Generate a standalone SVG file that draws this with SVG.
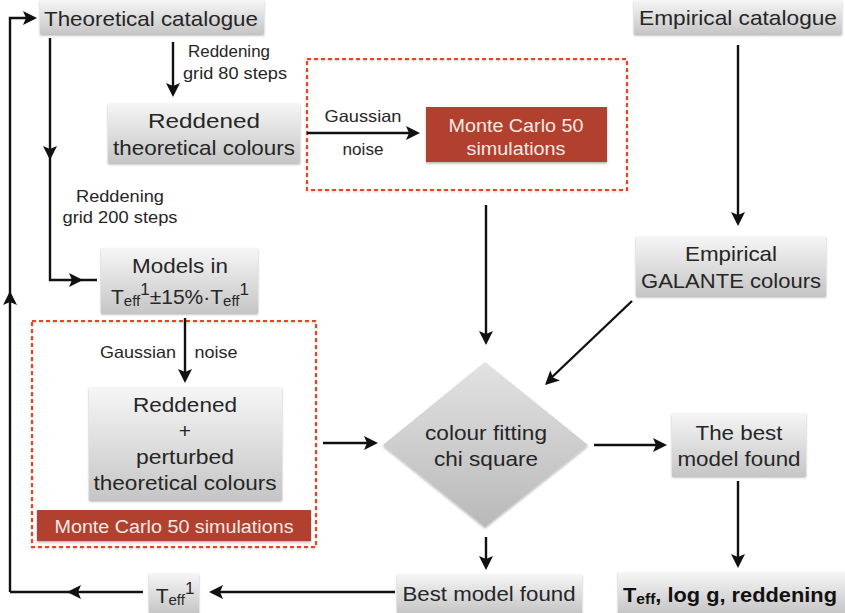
<svg xmlns="http://www.w3.org/2000/svg" xmlns:xlink="http://www.w3.org/1999/xlink" width="845" height="613" viewBox="0 0 845 613">
<style>
  text{font-family:"Liberation Sans",Arial,sans-serif;fill:#262626;text-anchor:middle}
  .lbl{font-size:21px}
  .sm{font-size:16.5px}
  .mc{font-size:18px;fill:#f6e9e4}
  .box{fill:url(#gbox);filter:url(#sh)}
  .red{fill:#b1402f;filter:url(#sh)}
  .dash{fill:none;stroke:#f0401f;stroke-width:2;stroke-dasharray:4 3;filter:url(#sh2)}
  .ln{fill:none;stroke:#111;stroke-width:2.4}
  .bold{font-weight:bold;font-size:21px;fill:#111}
</style>
<defs>
  <linearGradient id="gbox" x1="0" y1="0" x2="0" y2="1">
    <stop offset="0" stop-color="#f6f6f6"/>
    <stop offset="1" stop-color="#c6c6c6"/>
  </linearGradient>
  <linearGradient id="gdia" x1="0" y1="0" x2="0" y2="1">
    <stop offset="0" stop-color="#e2e2e2"/>
    <stop offset="1" stop-color="#b9b9b9"/>
  </linearGradient>
  <filter id="sh" x="-10%" y="-10%" width="120%" height="130%">
    <feDropShadow dx="0" dy="1.5" stdDeviation="1.2" flood-color="#000" flood-opacity="0.3"/>
  </filter>
  <filter id="sh2" x="-5%" y="-5%" width="110%" height="110%">
    <feDropShadow dx="0" dy="1" stdDeviation="0.8" flood-color="#000" flood-opacity="0.25"/>
  </filter>
  <path id="ah" d="M0,0 L-14,-7 L-11,0 L-14,7 Z" fill="#111"/>
</defs>

<!-- dashed groups -->
<g id="mc-top-group">
  <rect class="dash" x="307" y="59" width="320" height="131"/>
</g>
<g id="mc-bottom-group">
  <rect class="dash" x="32" y="321" width="284" height="226"/>
</g>

<g id="theo-cat">
  <rect class="box" x="40" y="0" width="224" height="34"/>
  <text class="lbl" x="151" y="26" textLength="214" lengthAdjust="spacingAndGlyphs">Theoretical catalogue</text>
</g>
<g id="emp-cat">
  <rect class="box" x="634" y="0" width="208" height="34"/>
  <text class="lbl" x="738" y="25" textLength="198" lengthAdjust="spacingAndGlyphs">Empirical catalogue</text>
</g>
<g id="reddened-theo">
  <rect class="box" x="108" y="103" width="192" height="60"/>
  <text class="lbl" x="204" y="128" textLength="112" lengthAdjust="spacingAndGlyphs">Reddened</text>
  <text class="lbl" x="204" y="155" textLength="182" lengthAdjust="spacingAndGlyphs">theoretical colours</text>
</g>
<g id="mc-top">
  <rect class="red" x="426" y="107" width="181" height="55"/>
  <text class="mc" x="516" y="132" textLength="135" lengthAdjust="spacingAndGlyphs">Monte Carlo 50</text>
  <text class="mc" x="516" y="155" textLength="99" lengthAdjust="spacingAndGlyphs">simulations</text>
</g>
<g id="emp-galante">
  <rect class="box" x="636" y="236" width="190" height="60"/>
  <text class="lbl" x="731" y="261" textLength="92" lengthAdjust="spacingAndGlyphs">Empirical</text>
  <text class="lbl" x="731" y="288" textLength="180" lengthAdjust="spacingAndGlyphs">GALANTE colours</text>
</g>
<g id="models-in">
  <rect class="box" x="101" y="248" width="157" height="65"/>
  <text class="lbl" x="180" y="273" textLength="96" lengthAdjust="spacingAndGlyphs">Models in</text>
  <text class="lbl" x="180" y="304">T<tspan font-size="15" dy="2">eff</tspan><tspan font-size="17" dy="-11">1</tspan><tspan dy="9">±15%·T</tspan><tspan font-size="15" dy="2">eff</tspan><tspan font-size="17" dy="-11">1</tspan></text>
</g>
<g id="reddened-perturbed">
  <rect class="box" x="89" y="387" width="193" height="113"/>
  <text class="lbl" x="185" y="412" textLength="104" lengthAdjust="spacingAndGlyphs">Reddened</text>
  <text class="lbl" x="185" y="438">+</text>
  <text class="lbl" x="185" y="464" textLength="98" lengthAdjust="spacingAndGlyphs">perturbed</text>
  <text class="lbl" x="185" y="490" textLength="183" lengthAdjust="spacingAndGlyphs">theoretical colours</text>
</g>
<g id="mc-bottom">
  <rect class="red" x="37" y="510" width="274" height="31"/>
  <text class="mc" x="174" y="533" textLength="239" lengthAdjust="spacingAndGlyphs">Monte Carlo 50 simulations</text>
</g>
<g id="diamond">
  <polygon points="485,362 588,445 485,527 383,445" fill="url(#gdia)" filter="url(#sh)"/>
  <text class="lbl" x="486" y="440" textLength="122" lengthAdjust="spacingAndGlyphs">colour fitting</text>
  <text class="lbl" x="486" y="466" textLength="104" lengthAdjust="spacingAndGlyphs">chi square</text>
</g>
<g id="best-model">
  <rect class="box" x="672" y="413" width="134" height="63"/>
  <text class="lbl" x="739" y="440" textLength="87" lengthAdjust="spacingAndGlyphs">The best</text>
  <text class="lbl" x="739" y="466" textLength="123" lengthAdjust="spacingAndGlyphs">model found</text>
</g>
<g id="best-model-found">
  <rect class="box" x="397" y="574" width="185" height="39"/>
  <text class="lbl" x="489" y="601" textLength="173" lengthAdjust="spacingAndGlyphs">Best model found</text>
</g>
<g id="teff1">
  <rect class="box" x="149" y="573" width="50" height="40"/>
  <text class="lbl" x="175" y="603">T<tspan font-size="15" dy="2">eff</tspan><tspan font-size="17" dy="-11">1</tspan></text>
</g>
<g id="result">
  <rect class="box" x="618" y="572" width="227" height="41"/>
  <text class="bold" x="730" y="602" textLength="214" lengthAdjust="spacingAndGlyphs">T<tspan font-size="15" dy="2">eff</tspan><tspan dy="-2">, log g, reddening</tspan></text>
</g>

<!-- connector labels -->
<g id="labels">
  <text class="sm" x="229" y="57" textLength="82" lengthAdjust="spacingAndGlyphs">Reddening</text>
  <text class="sm" x="235" y="79" textLength="104" lengthAdjust="spacingAndGlyphs">grid 80 steps</text>
  <text class="sm" x="120" y="202" textLength="88" lengthAdjust="spacingAndGlyphs">Reddening</text>
  <text class="sm" x="120" y="223" textLength="115" lengthAdjust="spacingAndGlyphs">grid 200 steps</text>
  <text class="sm" x="363" y="122" textLength="77" lengthAdjust="spacingAndGlyphs">Gaussian</text>
  <text class="sm" x="363" y="155" textLength="41" lengthAdjust="spacingAndGlyphs">noise</text>
  <text class="sm" x="138" y="358" textLength="76" lengthAdjust="spacingAndGlyphs">Gaussian</text>
  <text class="sm" x="216" y="358" textLength="43" lengthAdjust="spacingAndGlyphs">noise</text>
</g>

<g id="connectors">
  <line class="ln" x1="173" y1="42" x2="173" y2="90"/>
  <use xlink:href="#ah" transform="translate(173,97) rotate(90)"/>

  <polyline class="ln" points="50,38 50,280 97,280"/>
  <use xlink:href="#ah" transform="translate(50,160) rotate(90)"/>
  <use xlink:href="#ah" transform="translate(83,280)"/>

  <polyline class="ln" points="10,592 10,18 30,18"/>
  <use xlink:href="#ah" transform="translate(10,291) rotate(-90)"/>
  <use xlink:href="#ah" transform="translate(37,18)"/>

  <line class="ln" x1="395" y1="592" x2="212" y2="592"/>
  <use xlink:href="#ah" transform="translate(209,592) rotate(180)"/>
  <line class="ln" x1="143" y1="592" x2="10" y2="592"/>
  <use xlink:href="#ah" transform="translate(67,592) rotate(180)"/>

  <line class="ln" x1="307" y1="133" x2="412" y2="133"/>
  <use xlink:href="#ah" transform="translate(420,133)"/>

  <line class="ln" x1="486" y1="205" x2="486" y2="338"/>
  <use xlink:href="#ah" transform="translate(486,345) rotate(90)"/>

  <line class="ln" x1="738" y1="45" x2="738" y2="219"/>
  <use xlink:href="#ah" transform="translate(738,226) rotate(90)"/>

  <line class="ln" x1="632" y1="301" x2="550" y2="379"/>
  <use xlink:href="#ah" transform="translate(545,385) rotate(136.4)"/>

  <line class="ln" x1="185" y1="318" x2="185" y2="376"/>
  <use xlink:href="#ah" transform="translate(185,383) rotate(90)"/>

  <line class="ln" x1="323" y1="443" x2="371" y2="443"/>
  <use xlink:href="#ah" transform="translate(378,443)"/>

  <line class="ln" x1="594" y1="445" x2="660" y2="445"/>
  <use xlink:href="#ah" transform="translate(667,445)"/>

  <line class="ln" x1="738" y1="481" x2="738" y2="561"/>
  <use xlink:href="#ah" transform="translate(738,568) rotate(90)"/>

  <line class="ln" x1="486" y1="537" x2="486" y2="563"/>
  <use xlink:href="#ah" transform="translate(486,570) rotate(90)"/>
</g>
</svg>
